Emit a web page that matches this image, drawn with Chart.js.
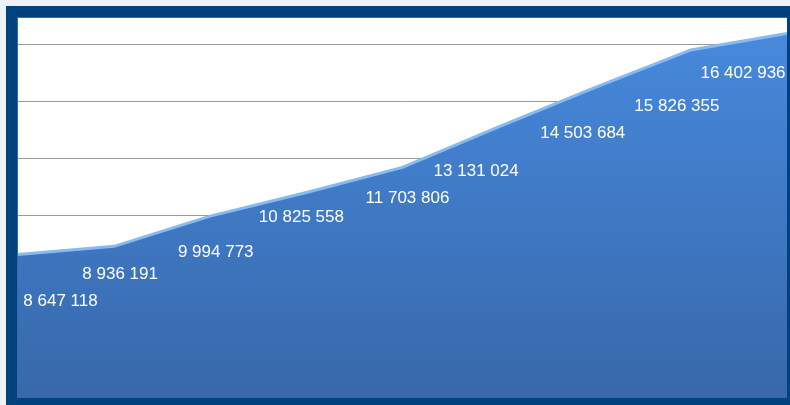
<!DOCTYPE html>
<html>
<head>
<meta charset="utf-8">
<script src="https://cdn.jsdelivr.net/npm/chart.js@4"></script>
<style>
  html, body { margin: 0; padding: 0; background: #eef1f6; }
  #frame {
    position: absolute; left: 6px; top: 6px;
    width: 784px; height: 399px; box-sizing: border-box;
    border-style: solid; border-color: #00427f;
    border-width: 12px 3px 7px 12px;
    background: #ffffff;
  }
  #frame::after {
    content: ''; position: absolute; left: -1px; top: -1px; right: 0; bottom: 0;
    border-left: 1px solid #3a6aa3; border-top: 1px solid #3a6aa3; pointer-events: none;
  }
  #wrap { position: absolute; left: 0; top: 0; width: 769px; height: 380px; }
</style>
</head>
<body>
<div id="frame"><div id="wrap"><canvas id="areaChart"></canvas></div></div>
<script>
// Chart data
const categories = ['1', '2', '3', '4', '5', '6', '7', '8', '9'];
const values = [8647118, 8936191, 9994773, 10825558, 11703806, 13131024, 14503684, 15826355, 16402936];
const gridValues = [4000000, 6000000, 8000000, 10000000, 12000000, 14000000, 16000000];

// Label nudges relative to each point (px)
const labelDx = [42.5, 6, 5.5, -5, 5, -22.5, -12, -14, -44];
const labelDy = [47, 28, 36, 24.5, 31, 45, 45.5, 56, 40];

const formatNum = n => String(n).replace(/\B(?=(\d{3})+(?!\d))/g, ' ');

// Draw the value labels in white
const valueLabels = {
    id: 'valueLabels',
    afterDatasetsDraw(chart) {
        const c = chart.ctx;
        const meta = chart.getDatasetMeta(0);
        c.save();
        c.fillStyle = '#ffffff';
        c.font = '17px "Liberation Sans", Arial, sans-serif';
        c.textAlign = 'center';
        c.textBaseline = 'middle';
        meta.data.forEach((pt, i) => {
            c.fillText(formatNum(values[i]), pt.x + labelDx[i], pt.y + labelDy[i]);
        });
        c.restore();
    }
};

const ctx = document.getElementById('areaChart').getContext('2d');

new Chart(ctx, {
    type: 'line',
    data: {
        labels: categories,
        datasets: [{
            data: values,
            fill: 'start',
            tension: 0,
            pointRadius: 0,
            borderColor: '#86baf2',
            borderWidth: 3,
            backgroundColor: (context) => {
                const area = context.chart.chartArea;
                if (!area) return '#4080cc';
                const g = context.chart.ctx.createLinearGradient(0, area.top + 15, 0, area.bottom);
                g.addColorStop(0, '#4789dc');
                g.addColorStop(1, '#3768aa');
                return g;
            }
        }]
    },
    options: {
        responsive: true,
        maintainAspectRatio: false,
        animation: false,
        layout: { padding: 0 },
        plugins: {
            legend: { display: false },
            tooltip: { enabled: false }
        },
        scales: {
            x: {
                display: false,
                offset: false
            },
            y: {
                min: 3614000,
                max: 16947000,
                border: { display: false },
                afterBuildTicks: (scale) => {
                    scale.ticks = gridValues.map(v => ({ value: v }));
                },
                ticks: { display: false },
                grid: {
                    drawTicks: false,
                    lineWidth: 1,
                    color: '#9a9a9a'
                }
            }
        }
    },
    plugins: [valueLabels]
});
</script>
</body>
</html>
